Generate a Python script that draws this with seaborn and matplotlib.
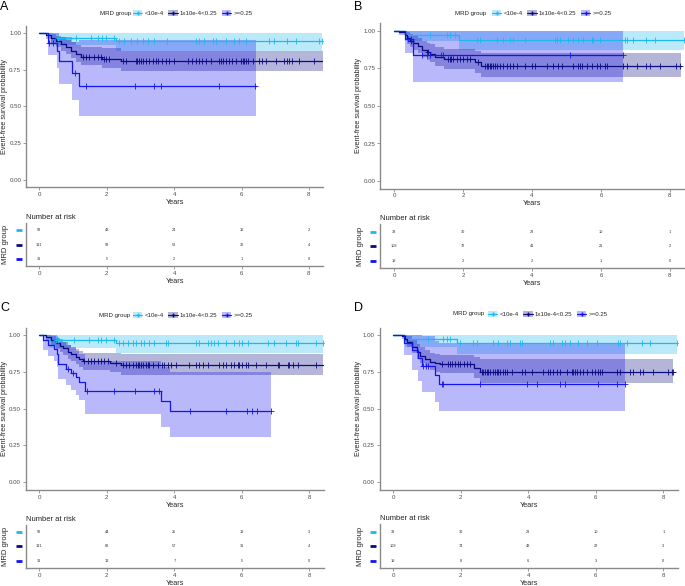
import numpy as np
import pandas as pd
import matplotlib
matplotlib.use("Agg")
import matplotlib.pyplot as plt
import seaborn as sns
from matplotlib.patches import Patch
from matplotlib.lines import Line2D

# ---------------- data ----------------
GROUPS = ["<10e-4", "1x10e-4<0.25", ">=0.25"]
COLORS = ["#1CB8F0", "#0A0A82", "#1414F0"]
RISK_TIMES = [0, 2, 4, 6, 8]

# Panel A
A_g1_time = [0, 0.34, 2.27]
A_g1_surv = [1.0, 0.966, 0.943]
A_g1_lower = [1.0, 0.92, 0.88]
A_g1_upper = [1.0, 1.0, 1.0]
A_g1_end = 8.40
A_g1_censor = [0.54, 1.08, 1.53, 1.73, 1.87, 1.97, 2.22, 2.37, 2.52, 2.72, 2.91, 3.06, 3.21, 3.41,
               3.80, 4.64, 4.74, 4.89, 5.14, 5.24, 5.53, 5.78, 5.93, 6.13, 6.82, 6.97, 7.36, 7.61,
               8.30, 8.40]
A_g2_time = [0, 0.19, 0.34, 0.49, 0.64, 0.79, 0.93, 1.08, 1.23, 1.87, 2.42]
A_g2_surv = [1.0, 0.984, 0.966, 0.943, 0.925, 0.903, 0.88, 0.857, 0.839, 0.825, 0.807]
A_g2_lower = [1.0, 0.96, 0.935, 0.905, 0.88, 0.855, 0.83, 0.80, 0.78, 0.765, 0.74]
A_g2_upper = [1.0, 1.0, 0.995, 0.98, 0.97, 0.955, 0.94, 0.92, 0.905, 0.895, 0.88]
A_g2_end = 8.41
A_g2_censor = [1.28, 1.38, 1.48, 1.63, 1.73, 1.82, 1.92, 1.97, 2.05, 2.47, 2.57, 2.86, 2.91, 2.96,
               3.01, 3.06, 3.16, 3.26, 3.36, 3.46, 3.51, 3.65, 3.75, 3.85, 4.00, 4.40, 4.54, 4.64,
               4.74, 4.84, 4.94, 5.09, 5.34, 5.39, 5.44, 5.53, 5.63, 5.73, 5.83, 5.98, 6.03, 6.08,
               6.13, 6.18, 6.33, 6.52, 6.62, 6.72, 7.02, 7.27, 7.36, 7.41, 7.51, 7.71, 8.16]
A_g3_time = [0, 0.24, 0.51, 0.59, 0.98, 1.18]
A_g3_surv = [1.0, 0.932, 0.875, 0.807, 0.73, 0.637]
A_g3_lower = [1.0, 0.85, 0.76, 0.653, 0.546, 0.433]
A_g3_upper = [1.0, 1.0, 1.0, 0.97, 0.94, 0.95]
A_g3_end = 6.42
A_g3_censor = [0.29, 0.39, 1.05, 1.37, 2.85, 3.41, 3.61, 5.34, 6.40]
A_risk_g1 = [59, 43, 24, 12, 2]
A_risk_g2 = [131, 93, 53, 30, 4]
A_risk_g3 = [31, 5, 2, 1, 0]

# Panel B
B_g1_time = [0, 0.30, 1.89]
B_g1_surv = [1.0, 0.974, 0.942]
B_g1_lower = [1.0, 0.93, 0.875]
B_g1_upper = [1.0, 1.0, 1.0]
B_g1_end = 8.41
B_g1_censor = [1.04, 1.52, 1.62, 1.76, 2.39, 2.49, 2.97, 3.16, 3.36, 3.45, 3.79, 4.66, 4.71, 4.81,
               5.05, 5.19, 5.34, 5.48, 5.73, 5.78, 5.97, 6.70, 6.74, 6.94, 7.32, 7.57, 8.41]
B_g2_time = [0, 0.15, 0.31, 0.36, 0.45, 0.55, 0.68, 0.79, 0.94, 1.04, 1.18, 1.45, 2.34, 2.52]
B_g2_surv = [1.0, 0.99, 0.97, 0.95, 0.935, 0.92, 0.898, 0.875, 0.86, 0.847, 0.827, 0.813, 0.79, 0.765]
B_g2_lower = [1.0, 0.97, 0.94, 0.91, 0.895, 0.875, 0.85, 0.825, 0.805, 0.79, 0.765, 0.75, 0.72, 0.69]
B_g2_upper = [1.0, 1.0, 1.0, 0.99, 0.98, 0.97, 0.95, 0.93, 0.92, 0.91, 0.89, 0.88, 0.865, 0.853]
B_g2_end = 8.33
B_g2_censor = [0.48, 0.98, 1.57, 1.62, 1.66, 1.71, 1.81, 1.91, 2.00, 2.10, 2.20, 2.44, 2.63, 2.68,
               2.73, 2.78, 2.82, 2.87, 2.92, 2.97, 3.07, 3.16, 3.26, 3.36, 3.45, 3.55, 3.79, 3.99,
               4.08, 4.42, 4.62, 4.76, 4.86, 5.19, 5.34, 5.39, 5.44, 5.58, 5.73, 5.87, 5.97, 6.11,
               6.16, 6.65, 6.74, 7.03, 7.32, 7.42, 7.71, 8.19, 8.29]
B_g3_time = [0, 0.31, 0.55]
B_g3_surv = [1.0, 0.947, 0.842]
B_g3_lower = [1.0, 0.855, 0.66]
B_g3_upper = [1.0, 1.0, 1.0]
B_g3_end = 6.63
B_g3_censor = [0.40, 0.49, 0.79, 0.94, 1.04, 1.37, 1.42, 5.10, 6.63]
B_risk_g1 = [38, 30, 23, 10, 1]
B_risk_g2 = [108, 72, 41, 21, 2]
B_risk_g3 = [19, 2, 2, 1, 0]

# Panel C
C_g1_time = [0, 0.30, 2.27]
C_g1_surv = [1.0, 0.966, 0.944]
C_g1_lower = [1.0, 0.91, 0.88]
C_g1_upper = [1.0, 1.0, 1.0]
C_g1_end = 8.40
C_g1_censor = [0.49, 0.54, 1.04, 1.48, 1.73, 1.83, 1.98, 2.22, 2.37, 2.47, 2.62, 2.77, 2.86, 3.01,
               3.11, 3.26, 3.41, 3.75, 3.80, 4.64, 4.74, 4.99, 5.09, 5.19, 5.28, 5.53, 5.78, 5.93,
               6.02, 6.17, 6.77, 6.96, 7.31, 7.61, 7.66, 8.20, 8.40]
C_g2_time = [0, 0.20, 0.35, 0.49, 0.60, 0.69, 0.84, 0.94, 1.09, 1.19, 1.29, 2.10, 2.42]
C_g2_surv = [1.0, 0.985, 0.966, 0.944, 0.925, 0.91, 0.887, 0.87, 0.853, 0.834, 0.82, 0.81, 0.796]
C_g2_lower = [1.0, 0.96, 0.935, 0.905, 0.885, 0.865, 0.84, 0.82, 0.80, 0.78, 0.765, 0.75, 0.728]
C_g2_upper = [1.0, 1.0, 0.99, 0.98, 0.97, 0.955, 0.935, 0.92, 0.905, 0.89, 0.88, 0.875, 0.871]
C_g2_end = 8.41
C_g2_censor = [1.33, 1.43, 1.53, 1.63, 1.73, 1.83, 1.93, 2.03, 2.27, 2.47, 2.57, 2.67, 2.77, 2.86,
               2.91, 2.96, 3.01, 3.06, 3.16, 3.21, 3.26, 3.36, 3.51, 3.65, 3.70, 3.80, 3.90, 4.05,
               4.44, 4.64, 4.74, 4.84, 4.99, 5.33, 5.43, 5.53, 5.68, 5.78, 5.88, 5.93, 6.02, 6.12,
               6.17, 6.42, 6.72, 7.06, 7.11, 7.36, 7.41, 7.51, 7.66, 8.20]
C_g3_time = [0, 0.10, 0.27, 0.45, 0.52, 0.56, 0.79, 0.94, 1.09, 1.19, 1.36, 3.61, 3.87]
C_g3_surv = [1.0, 0.968, 0.935, 0.903, 0.871, 0.806, 0.767, 0.74, 0.712, 0.683, 0.62, 0.554, 0.484]
C_g3_lower = [1.0, 0.90, 0.86, 0.82, 0.78, 0.70, 0.66, 0.627, 0.59, 0.56, 0.464, 0.378, 0.31]
C_g3_upper = [1.0, 1.0, 1.0, 1.0, 0.99, 0.95, 0.93, 0.91, 0.89, 0.87, 0.82, 0.78, 0.75]
C_g3_end = 6.87
C_g3_censor = [0.84, 0.99, 1.41, 2.20, 2.85, 3.41, 3.55, 4.45, 5.53, 6.16, 6.31, 6.46, 6.87]
C_risk_g1 = [59, 44, 25, 13, 3]
C_risk_g2 = [131, 88, 57, 31, 4]
C_risk_g3 = [31, 13, 7, 5, 0]

# Panel D
D_g1_time = [0, 0.35, 1.90]
D_g1_surv = [1.0, 0.971, 0.944]
D_g1_lower = [1.0, 0.915, 0.871]
D_g1_upper = [1.0, 1.0, 1.0]
D_g1_end = 8.40
D_g1_censor = [1.04, 1.48, 1.58, 1.68, 1.98, 2.37, 2.47, 2.96, 3.11, 3.36, 3.46, 3.75, 3.80, 4.64,
               4.74, 4.99, 5.09, 5.24, 5.48, 5.73, 6.03, 6.67, 6.72, 6.91, 7.36, 7.61, 8.40]
D_g2_time = [0, 0.25, 0.35, 0.40, 0.54, 0.69, 0.79, 0.94, 1.09, 1.23, 1.38, 2.40, 2.57]
D_g2_surv = [1.0, 0.99, 0.975, 0.955, 0.92, 0.887, 0.857, 0.835, 0.819, 0.808, 0.801, 0.775, 0.751]
D_g2_lower = [1.0, 0.97, 0.95, 0.92, 0.88, 0.84, 0.81, 0.785, 0.765, 0.75, 0.74, 0.71, 0.676]
D_g2_upper = [1.0, 1.0, 1.0, 0.99, 0.965, 0.94, 0.915, 0.895, 0.88, 0.87, 0.865, 0.85, 0.835]
D_g2_end = 8.30
D_g2_censor = [1.43, 1.63, 1.68, 1.73, 1.83, 1.93, 1.98, 2.08, 2.18, 2.27, 2.62, 2.67, 2.72, 2.77,
               2.81, 2.86, 2.96, 3.01, 3.06, 3.11, 3.16, 3.26, 3.31, 3.36, 3.51, 3.80, 3.90, 4.10,
               4.44, 4.59, 4.64, 4.74, 4.84, 4.94, 5.14, 5.28, 5.33, 5.38, 5.43, 5.53, 5.63, 5.73,
               5.88, 5.98, 6.07, 6.12, 6.17, 6.62, 6.72, 7.01, 7.11, 7.31, 7.41, 7.70, 8.15, 8.25, 8.30]
D_g3_time = [0, 0.32, 0.54, 0.74, 0.84, 1.24, 1.34]
D_g3_surv = [1.0, 0.947, 0.895, 0.842, 0.789, 0.73, 0.667]
D_g3_lower = [1.0, 0.864, 0.762, 0.69, 0.615, 0.547, 0.484]
D_g3_upper = [1.0, 1.0, 1.0, 1.0, 0.99, 0.96, 0.945]
D_g3_end = 6.87
D_g3_censor = [0.88, 0.98, 1.03, 1.43, 1.48, 2.57, 3.95, 4.25, 4.94, 5.09, 6.07, 6.62, 6.87]
D_risk_g1 = [38, 30, 23, 10, 1]
D_risk_g2 = [108, 74, 43, 22, 3]
D_risk_g3 = [19, 8, 6, 3, 0]

# ---------------- styling ----------------
sns.set_theme(style="white")
plt.rcParams["font.family"] = ["Liberation Sans", "DejaVu Sans"]
AXC = "#8a8a8a"
TXC = "#4d4d4d"

W, H = 685, 586
fig = plt.figure(figsize=(W / 100, H / 100), dpi=100)


def rect(l, t, r, b):
    return [l / W, 1 - b / H, (r - l) / W, (b - t) / H]


XLIM = (-0.4, 8.42)


def style_axes(ax):
    for side in ["top", "right"]:
        ax.spines[side].set_visible(False)
    for side in ["left", "bottom"]:
        ax.spines[side].set_color(AXC)
        ax.spines[side].set_linewidth(1.0)
    ax.tick_params(axis="both", which="both", length=2, width=0.6, color=AXC,
                   labelsize=4.4, labelcolor=TXC, pad=1.5, left=True, bottom=True)
    ax.set_xlim(*XLIM)
    ax.set_xticks(RISK_TIMES)


def panel(letter, groups, risks, main_box, table_box, letter_xy, leg_title_x, leg_x, leg_y,
          ylab_x, tlab_x):
    axm = fig.add_axes(rect(*main_box))
    axt = fig.add_axes(rect(*table_box))
    # confidence bands
    for g, (t, s, lo, hi, end, cens) in enumerate(groups):
        tt = list(t) + [end]
        axm.fill_between(tt, list(lo) + [lo[-1]], list(hi) + [hi[-1]], step="post",
                         color=COLORS[g], alpha=0.3, lw=0)
    # curves and censor marks
    for g, (t, s, lo, hi, end, cens) in enumerate(groups):
        df = pd.DataFrame({"Years": list(t) + [end], "surv": list(s) + [s[-1]]})
        sns.lineplot(data=df, x="Years", y="surv", ax=axm, color=COLORS[g], lw=0.9,
                     drawstyle="steps-post", estimator=None, sort=False)
        idx = np.searchsorted(np.asarray(t), np.asarray(cens), side="right") - 1
        cdf = pd.DataFrame({"Years": cens, "surv": np.asarray(s)[idx]})
        sns.scatterplot(data=cdf, x="Years", y="surv", ax=axm, color=COLORS[g], marker="+",
                        s=14, linewidth=0.6, zorder=4)
    style_axes(axm)
    axm.set_ylim(-0.05, 1.05)
    axm.set_yticks([0, 0.25, 0.5, 0.75, 1.0])
    axm.set_yticklabels(["0.00", "0.25", "0.50", "0.75", "1.00"])
    axm.set_xlabel("Years", fontsize=5.2, labelpad=1.5)
    axm.set_ylabel("Event-free survival probability", fontsize=5.2)
    axm.yaxis.set_label_coords(ylab_x, 0.5)

    # legend
    handles = [(Patch(facecolor=COLORS[g], alpha=0.3, edgecolor="none"),
                Line2D([], [], color=COLORS[g], lw=0.8, marker="+", markersize=3.5))
               for g in range(3)]
    axm.legend(handles, GROUPS, loc="center left", bbox_to_anchor=(leg_x / W, 1 - leg_y / H),
               bbox_transform=fig.transFigure, ncol=3, frameon=False, fontsize=4.4,
               handlelength=1.5, handleheight=1.15, handletextpad=0.35, columnspacing=0.8,
               borderpad=0, borderaxespad=0)
    fig.text(leg_title_x / W, 1 - leg_y / H, "MRD group", fontsize=4.4, color="#222222",
             ha="left", va="center")
    fig.text(letter_xy[0] / W, 1 - letter_xy[1] / H, letter, fontsize=9, ha="left", va="top",
             color="black")

    # risk table
    style_axes(axt)
    axt.set_ylim(0.5, 3.5)
    axt.set_yticks([])
    for g in range(3):
        for x, n in zip(RISK_TIMES, risks[g]):
            axt.text(x, 3 - g, str(n), ha="center", va="center", fontsize=2.8, color="#333333")
        axt.plot([-0.034, -0.014], [3 - g, 3 - g], color=COLORS[g], lw=2.0,
                 transform=axt.get_yaxis_transform(), clip_on=False, solid_capstyle="butt")
    axt.set_title("Number at risk", loc="left", fontsize=5.5, pad=3, color="#222222")
    axt.set_xlabel("Years", fontsize=5.2, labelpad=1.5)
    axt.set_ylabel("MRD group", fontsize=5.5)
    axt.yaxis.set_label_coords(tlab_x, 0.5)


panel("A",
      [(A_g1_time, A_g1_surv, A_g1_lower, A_g1_upper, A_g1_end, A_g1_censor),
       (A_g2_time, A_g2_surv, A_g2_lower, A_g2_upper, A_g2_end, A_g2_censor),
       (A_g3_time, A_g3_surv, A_g3_lower, A_g3_upper, A_g3_end, A_g3_censor)],
      [A_risk_g1, A_risk_g2, A_risk_g3],
      (26.0, 25.6, 323.0, 187.4), (26.0, 222.75, 323.0, 266.25), (0, 1), 100, 133, 13,
      -0.060, -0.056)

panel("B",
      [(B_g1_time, B_g1_surv, B_g1_lower, B_g1_upper, B_g1_end, B_g1_censor),
       (B_g2_time, B_g2_surv, B_g2_lower, B_g2_upper, B_g2_end, B_g2_censor),
       (B_g3_time, B_g3_surv, B_g3_lower, B_g3_upper, B_g3_end, B_g3_censor)],
      [B_risk_g1, B_risk_g2, B_risk_g3],
      (380.5, 23.5, 684.4, 188.5), (380.5, 224.4, 684.4, 268.0), (354, 1), 455, 492, 13,
      -0.060, -0.054)

panel("C",
      [(C_g1_time, C_g1_surv, C_g1_lower, C_g1_upper, C_g1_end, C_g1_censor),
       (C_g2_time, C_g2_surv, C_g2_lower, C_g2_upper, C_g2_end, C_g2_censor),
       (C_g3_time, C_g3_surv, C_g3_lower, C_g3_upper, C_g3_end, C_g3_censor)],
      [C_risk_g1, C_risk_g2, C_risk_g3],
      (25.8, 327.6, 323.5, 489.7), (25.8, 524.7, 323.5, 568.2), (0, 302), 99, 133, 315,
      -0.060, -0.056)

panel("D",
      [(D_g1_time, D_g1_surv, D_g1_lower, D_g1_upper, D_g1_end, D_g1_censor),
       (D_g2_time, D_g2_surv, D_g2_lower, D_g2_upper, D_g2_end, D_g2_censor),
       (D_g3_time, D_g3_surv, D_g3_lower, D_g3_upper, D_g3_end, D_g3_censor)],
      [D_risk_g1, D_risk_g2, D_risk_g3],
      (379.8, 327.6, 677.5, 489.7), (379.8, 524.4, 677.5, 568.0), (354, 302), 453, 488, 314,
      -0.060, -0.054)

fig.savefig("out.png", dpi=100)
